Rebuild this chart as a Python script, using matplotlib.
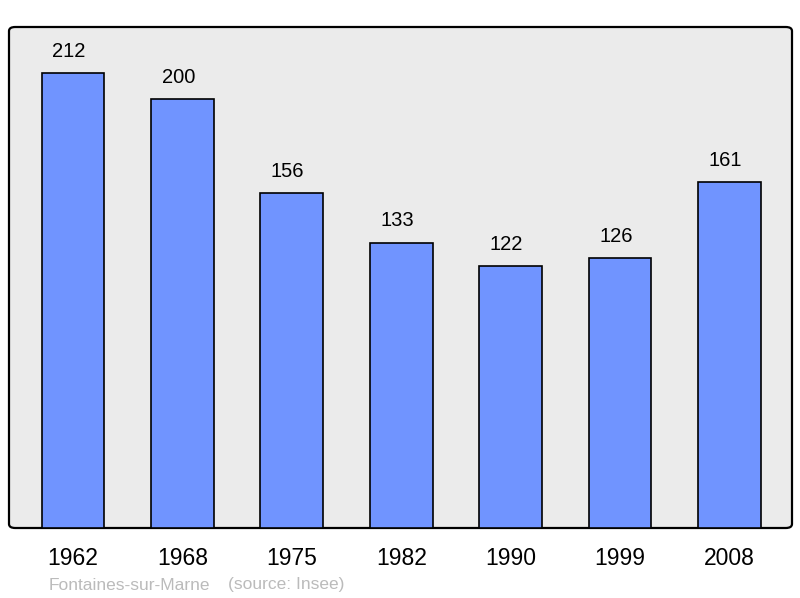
import matplotlib
matplotlib.use("Agg")
import matplotlib.pyplot as plt
from matplotlib.patches import FancyBboxPatch

years = ["1962", "1968", "1975", "1982", "1990", "1999", "2008"]
population = [212, 200, 156, 133, 122, 126, 161]
commune = "Fontaines-sur-Marne"
source = "(source: Insee)"

plt.rcParams['font.family'] = ['Liberation Sans', 'DejaVu Sans']

W, H = 800, 598
fig = plt.figure(figsize=(W / 100, H / 100), dpi=100)
ax = fig.add_axes([9 / W, (H - 528) / H, 783 / W, 501 / H])
ax.set_facecolor('none')
for s in ax.spines.values():
    s.set_visible(False)

frame = FancyBboxPatch((0, 0), 1, 1, boxstyle="round,pad=0,rounding_size=0.008",
                       transform=ax.transAxes, facecolor='#ebebeb', edgecolor='black',
                       linewidth=1.6, zorder=0, clip_on=False)
ax.add_patch(frame)

x = list(range(len(years)))
ax.bar(x, population, width=0.575, color='#7094ff', edgecolor='black', linewidth=1.2, zorder=2)
for xi, v in zip(x, population):
    ax.annotate(str(v), (xi, v), xytext=(-3, 15.5), textcoords='offset points',
                ha='center', va='center', fontsize=14.5, color='black')

ax.set_xlim(-0.585, 6.572)
ax.set_ylim(0, 233.4)
ax.set_yticks([])
ax.set_xticks(x)
ax.set_xticklabels(years, fontsize=16.5)
ax.tick_params(axis='x', length=0, pad=14)

fig.text(49 / W, 1 - 585 / H, commune, fontsize=12.5, color='#bbbbbb', va='center', ha='left')
fig.text(228 / W, 1 - 585 / H, source, fontsize=12.5, color='#bbbbbb', va='center', ha='left')

fig.savefig("out.png", dpi=100)
